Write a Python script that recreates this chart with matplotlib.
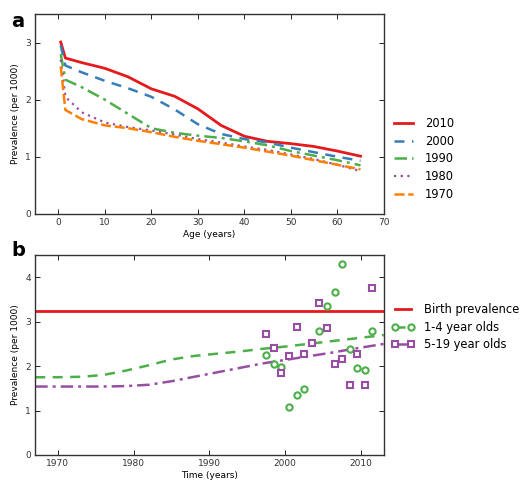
import matplotlib
matplotlib.use("Agg")
import matplotlib.pyplot as plt
from matplotlib.lines import Line2D
import numpy as np

# Panel a: prevalence by age for each calendar year
ages = [0.5, 1.5, 5, 10, 15, 20, 25, 30, 35, 40, 45, 50, 55, 60, 65]
prev_2010 = [3.01, 2.73, 2.65, 2.55, 2.40, 2.19, 2.06, 1.84, 1.55, 1.36, 1.27, 1.23, 1.18, 1.10, 1.01]
prev_2000 = [2.95, 2.60, 2.48, 2.33, 2.20, 2.05, 1.83, 1.57, 1.40, 1.31, 1.25, 1.16, 1.08, 1.00, 0.93]
prev_1990 = [2.80, 2.35, 2.22, 2.00, 1.75, 1.50, 1.42, 1.37, 1.33, 1.27, 1.20, 1.10, 1.02, 0.94, 0.85]
prev_1980 = [2.70, 2.05, 1.78, 1.60, 1.52, 1.46, 1.39, 1.31, 1.25, 1.18, 1.12, 1.04, 0.96, 0.86, 0.75]
prev_1970 = [2.58, 1.82, 1.66, 1.55, 1.50, 1.43, 1.35, 1.28, 1.22, 1.16, 1.09, 1.02, 0.94, 0.86, 0.78]

# Panel b: model curves and survey estimates over time
birth_prev = 3.25
model_years = [1967, 1970, 1973, 1976, 1979, 1982, 1985, 1988, 1991, 1994, 1997, 2000, 2003, 2006, 2009, 2013]
model_1_4 = [1.75, 1.75, 1.76, 1.80, 1.90, 2.02, 2.15, 2.23, 2.28, 2.33, 2.39, 2.44, 2.50, 2.56, 2.62, 2.70]
model_5_19 = [1.54, 1.54, 1.54, 1.54, 1.55, 1.58, 1.66, 1.76, 1.86, 1.96, 2.06, 2.14, 2.22, 2.30, 2.39, 2.50]

obs_years_1_4 = [1997.5, 1998.5, 1999.5, 2000.5, 2001.5, 2002.5, 2004.5,
                 2005.5, 2006.5, 2007.5, 2008.5, 2009.5, 2010.5, 2011.5]
obs_1_4 = [2.24, 2.05, 1.99, 1.09, 1.35, 1.49, 2.79, 3.35, 3.66, 4.31, 2.39, 1.95, 1.92, 2.78]
obs_years_5_19 = [1997.5, 1998.5, 1999.5, 2000.5, 2001.5, 2002.5, 2003.5, 2004.5,
                  2005.5, 2006.5, 2007.5, 2008.5, 2009.5, 2010.5, 2011.5]
obs_5_19 = [2.72, 2.40, 1.84, 2.23, 2.88, 2.27, 2.52, 3.42, 2.85, 2.04, 2.15, 1.58, 2.27, 1.58, 3.77]

red = "#e41a1c"
blue = "#377eb8"
green = "#4daf4a"
purple = "#984ea3"
orange = "#ff7f00"

plt.rcParams["font.family"] = "DejaVu Sans"
fig = plt.figure(figsize=(5.25, 4.86), dpi=100)
ax1 = fig.add_axes([0.067, 0.560, 0.664, 0.411])
ax2 = fig.add_axes([0.067, 0.064, 0.664, 0.411])

ax1.plot(ages, prev_2010, color=red, lw=2.0, label="2010")
ax1.plot(ages, prev_2000, color=blue, lw=1.8, ls=(0, (4, 3)), label="2000")
ax1.plot(ages, prev_1990, color=green, lw=1.8, ls=(0, (5, 2, 1.2, 2)), label="1990")
ax1.plot(ages, prev_1980, color=purple, lw=1.6, ls=(0, (1, 2)), label="1980")
ax1.plot(ages, prev_1970, color=orange, lw=1.8, ls=(0, (4, 1.5)), label="1970")
ax1.set_xlim(-5, 70)
ax1.set_ylim(0, 3.5)
ax1.set_xticks(range(0, 71, 10))
ax1.set_yticks([0, 1, 2, 3])
ax1.set_xlabel("Age (years)", fontsize=6.5, labelpad=2)
ax1.set_ylabel("Prevalence (per 1000)", fontsize=6.5, labelpad=4)
ax1.legend(loc="center left", bbox_to_anchor=(1.03, 0.275), frameon=False,
           fontsize=8.3, handlelength=1.65, handletextpad=1.0, labelspacing=0.42,
           borderaxespad=0, borderpad=0)

ax2.axhline(birth_prev, color=red, lw=2.0)
ax2.plot(model_years, model_1_4, color=green, lw=1.8, ls=(0, (4, 3)))
ax2.plot(model_years, model_5_19, color=purple, lw=1.8, ls=(0, (5, 2, 1.2, 2)))
ax2.plot(obs_years_1_4, obs_1_4, ls="none", marker="o", ms=4.5, mfc="white",
         mec=green, mew=1.5)
ax2.plot(obs_years_5_19, obs_5_19, ls="none", marker="s", ms=5, mfc="white",
         mec=purple, mew=1.5)
ax2.set_xlim(1967, 2013)
ax2.set_ylim(0, 4.5)
ax2.set_xticks(range(1970, 2011, 10))
ax2.set_yticks([0, 1, 2, 3, 4])
ax2.set_xlabel("Time (years)", fontsize=6.5, labelpad=2)
ax2.set_ylabel("Prevalence (per 1000)", fontsize=6.5, labelpad=4)

handles = [
    Line2D([], [], color=red, lw=2.0),
    Line2D([], [], color=green, lw=1.8, ls=(0, (4, 3)), marker="o", ms=4.5,
           mfc="white", mec=green, mew=1.5),
    Line2D([], [], color=purple, lw=1.8, ls=(0, (5, 2, 1.2, 2)), marker="s", ms=5,
           mfc="white", mec=purple, mew=1.5),
]
ax2.legend(handles, ["Birth prevalence", "1-4 year olds", "5-19 year olds"],
           loc="center left", bbox_to_anchor=(1.022, 0.64), frameon=False,
           fontsize=8.3, handlelength=2.0, handletextpad=0.8, labelspacing=0.42,
           borderaxespad=0, borderpad=0, numpoints=2)

for ax in (ax1, ax2):
    ax.tick_params(direction="in", top=True, right=True, labelsize=6.5,
                   length=3.5, width=0.6, labelcolor="#333333", pad=3)
    for s in ax.spines.values():
        s.set_linewidth(1.0)
        s.set_color("#333333")

fig.text(0.022, 0.975, "a", fontsize=14, fontweight="bold", va="top")
fig.text(0.022, 0.505, "b", fontsize=14, fontweight="bold", va="top")

fig.savefig("out.png", dpi=100)
